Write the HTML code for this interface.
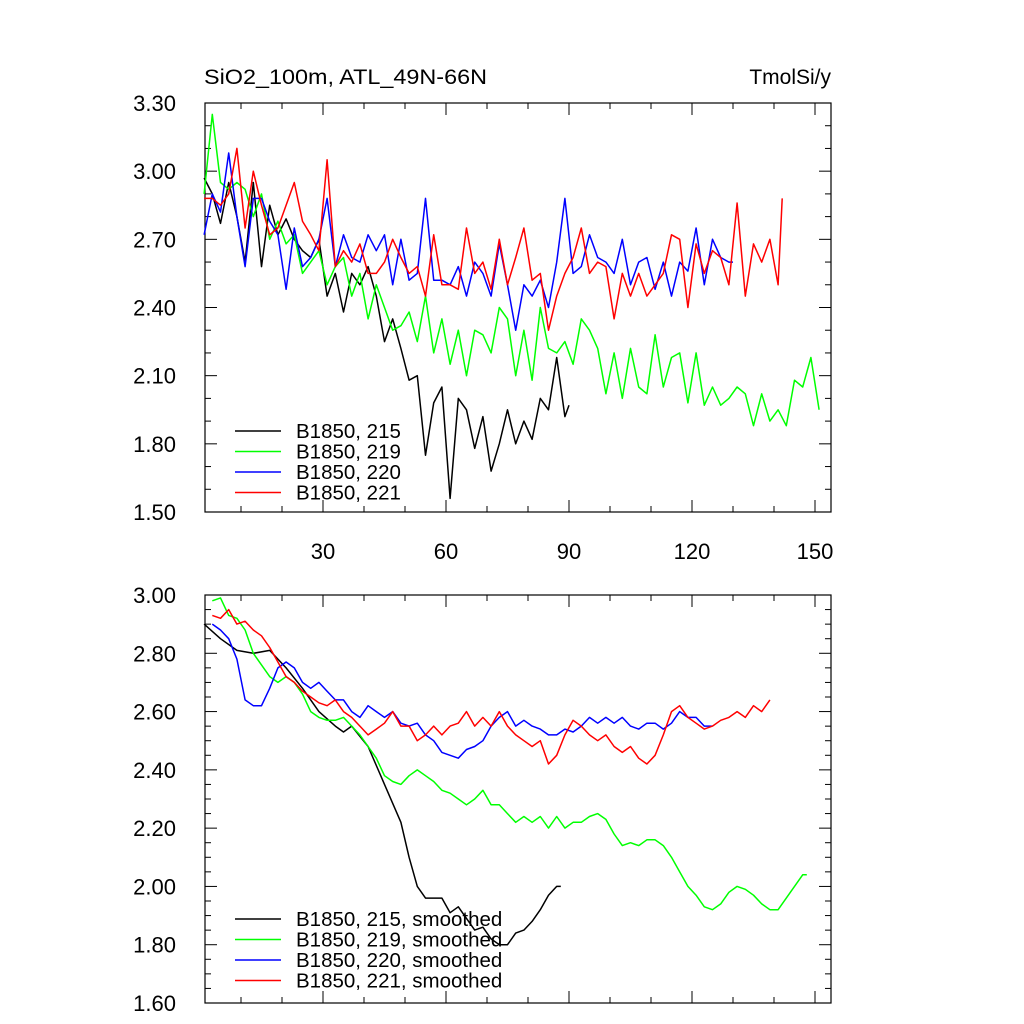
<!DOCTYPE html>
<html><head><meta charset="utf-8">
<style>
html,body{margin:0;padding:0;background:#fff;}
svg{display:block;font-family:"Liberation Sans",sans-serif;}
</style></head>
<body>
<svg id="chart" width="1024" height="1024" viewBox="0 0 1024 1024" xmlns="http://www.w3.org/2000/svg">
<text x="204" y="84" font-size="21" textLength="283" lengthAdjust="spacingAndGlyphs">SiO2_100m, ATL_49N-66N</text>
<text x="831" y="84" font-size="21" text-anchor="end">TmolSi/y</text>
<g id="top"></g>
<g id="bot"></g>
</svg>
<script>
const xTickLabels = [30, 60, 90, 120, 150];
const topYTicks = ["1.50","1.80","2.10","2.40","2.70","3.00","3.30"];
const botYTicks = ["1.60","1.80","2.00","2.20","2.40","2.60","2.80","3.00"];
const seriesNames = ["B1850, 215","B1850, 219","B1850, 220","B1850, 221"];
const colors = ["#000","#00ff00","#0000ff","#ff0000"];

const x215 = [1,3,5,7,9,11,13,15,17,19,21,23,25,27,29,31,33,35,37,39,41,43,45,47,49,51,53,55,57,59,61,63,65,67,69,71,73,75,77,79,81,83,85,87,89,90];
const y215 = [2.97,2.90,2.77,2.95,2.80,2.60,2.95,2.58,2.85,2.72,2.79,2.70,2.65,2.62,2.70,2.45,2.55,2.38,2.55,2.50,2.58,2.45,2.25,2.35,2.22,2.08,2.10,1.75,1.98,2.05,1.56,2.00,1.95,1.78,1.92,1.68,1.80,1.95,1.80,1.90,1.82,2.00,1.95,2.18,1.92,1.97];
const x219 = [1,3,5,7,9,11,13,15,17,19,21,23,25,27,29,31,33,35,37,39,41,43,45,47,49,51,53,55,57,59,61,63,65,67,69,71,73,75,77,79,81,83,85,87,89,91,93,95,97,99,101,103,105,107,109,111,113,115,117,119,121,123,125,127,129,131,133,135,137,139,141,143,145,147,149,151];
const y219 = [2.90,3.25,2.95,2.92,2.95,2.92,2.80,2.90,2.70,2.78,2.68,2.72,2.55,2.60,2.65,2.50,2.58,2.62,2.45,2.55,2.35,2.50,2.40,2.30,2.32,2.38,2.25,2.45,2.20,2.35,2.15,2.30,2.10,2.30,2.28,2.20,2.40,2.35,2.10,2.30,2.08,2.40,2.22,2.20,2.25,2.15,2.35,2.30,2.22,2.02,2.20,2.00,2.22,2.05,2.02,2.28,2.05,2.18,2.20,1.98,2.20,1.97,2.05,1.97,2.00,2.05,2.02,1.88,2.02,1.90,1.95,1.88,2.08,2.05,2.18,1.95];
const x220 = [1,3,5,7,9,11,13,15,17,19,21,23,25,27,29,31,33,35,37,39,41,43,45,47,49,51,53,55,57,59,61,63,65,67,69,71,73,75,77,79,81,83,85,87,89,91,93,95,97,99,101,103,105,107,109,111,113,115,117,119,121,123,125,127,129,130];
const y220 = [2.72,2.90,2.82,3.08,2.80,2.58,2.88,2.88,2.78,2.72,2.48,2.75,2.58,2.62,2.70,2.88,2.58,2.72,2.62,2.60,2.72,2.65,2.72,2.50,2.70,2.52,2.55,2.88,2.52,2.52,2.50,2.58,2.45,2.60,2.55,2.45,2.68,2.50,2.30,2.50,2.45,2.52,2.40,2.60,2.88,2.55,2.58,2.72,2.62,2.60,2.55,2.70,2.50,2.60,2.62,2.48,2.60,2.45,2.60,2.56,2.75,2.50,2.70,2.62,2.60,2.60];
const x221 = [1,3,5,7,9,11,13,15,17,19,21,23,25,27,29,31,33,35,37,39,41,43,45,47,49,51,53,55,57,59,61,63,65,67,69,71,73,75,77,79,81,83,85,87,89,91,93,95,97,99,101,103,105,107,109,111,113,115,117,119,121,123,125,127,129,131,133,135,137,139,141,142];
const y221 = [2.88,2.88,2.85,2.90,3.10,2.75,3.00,2.85,2.72,2.75,2.85,2.95,2.78,2.72,2.65,3.05,2.58,2.65,2.60,2.68,2.55,2.55,2.60,2.70,2.62,2.55,2.58,2.45,2.72,2.50,2.50,2.48,2.75,2.55,2.60,2.48,2.70,2.50,2.62,2.75,2.52,2.55,2.30,2.45,2.55,2.62,2.75,2.55,2.60,2.58,2.35,2.55,2.45,2.55,2.45,2.50,2.55,2.72,2.70,2.40,2.68,2.55,2.65,2.62,2.50,2.86,2.45,2.68,2.60,2.70,2.50,2.88];

const xs215 = [1,5,9,13,17,21,25,29,33,35,37,41,45,49,51,53,55,59,61,63,67,69,71,73,75,77,79,81,83,85,87,88];
const ys215 = [2.90,2.85,2.81,2.80,2.81,2.75,2.68,2.60,2.55,2.53,2.55,2.48,2.35,2.22,2.10,2.00,1.96,1.96,1.91,1.93,1.85,1.86,1.82,1.80,1.80,1.84,1.85,1.88,1.92,1.97,2.00,2.00];
const xs219 = [3,5,7,9,11,13,15,17,19,21,23,25,27,29,31,33,35,37,39,41,43,45,47,49,51,53,55,57,59,61,63,65,67,69,71,73,75,77,79,81,83,85,87,89,91,93,95,97,99,101,103,105,107,109,111,113,115,117,119,121,123,125,127,129,131,133,135,137,139,141,143,145,147,148];
const ys219 = [2.98,2.99,2.93,2.92,2.88,2.80,2.76,2.72,2.70,2.72,2.70,2.66,2.60,2.58,2.57,2.57,2.58,2.55,2.52,2.48,2.44,2.38,2.36,2.35,2.38,2.40,2.38,2.36,2.33,2.32,2.30,2.28,2.30,2.33,2.28,2.28,2.25,2.22,2.24,2.22,2.24,2.20,2.24,2.20,2.22,2.22,2.24,2.25,2.23,2.18,2.14,2.15,2.14,2.16,2.16,2.14,2.10,2.05,2.00,1.97,1.93,1.92,1.94,1.98,2.00,1.99,1.97,1.94,1.92,1.92,1.96,2.00,2.04,2.04];
const xs220 = [3,5,7,9,11,13,15,17,19,21,23,25,27,29,31,33,35,37,39,41,43,45,47,49,51,53,55,57,59,61,63,65,67,69,71,73,75,77,79,81,83,85,87,89,91,93,95,97,99,101,103,105,107,109,111,113,115,117,119,121,123,125];
const ys220 = [2.90,2.88,2.85,2.78,2.64,2.62,2.62,2.68,2.75,2.77,2.75,2.70,2.68,2.70,2.67,2.64,2.64,2.60,2.58,2.62,2.60,2.58,2.60,2.56,2.55,2.56,2.52,2.50,2.46,2.45,2.44,2.47,2.48,2.50,2.55,2.58,2.60,2.55,2.57,2.55,2.54,2.52,2.52,2.54,2.53,2.55,2.58,2.56,2.58,2.56,2.58,2.55,2.54,2.56,2.56,2.54,2.56,2.60,2.58,2.58,2.55,2.55];
const xs221 = [3,5,7,9,11,13,15,17,19,21,23,25,27,29,31,33,35,37,39,41,43,45,47,49,51,53,55,57,59,61,63,65,67,69,71,73,75,77,79,81,83,85,87,89,91,93,95,97,99,101,103,105,107,109,111,113,115,117,119,121,123,125,127,129,131,133,135,137,139];
const ys221 = [2.93,2.92,2.95,2.90,2.91,2.88,2.86,2.82,2.77,2.72,2.70,2.67,2.65,2.63,2.62,2.64,2.60,2.58,2.55,2.52,2.54,2.56,2.60,2.55,2.55,2.50,2.52,2.55,2.52,2.55,2.56,2.60,2.55,2.58,2.55,2.60,2.55,2.52,2.50,2.48,2.50,2.42,2.45,2.52,2.57,2.55,2.52,2.50,2.52,2.48,2.46,2.48,2.44,2.42,2.45,2.52,2.60,2.62,2.58,2.56,2.54,2.55,2.57,2.58,2.60,2.58,2.62,2.60,2.64];

const NS = "http://www.w3.org/2000/svg";
const L = 205, R = 831;
function xScale(v){ return 200 + (v/30)*123; }
function mk(tag, attrs, parent){
  const e = document.createElementNS(NS, tag);
  for (const k in attrs) e.setAttribute(k, attrs[k]);
  parent.appendChild(e); return e;
}

function panel(g, top, bot, ymin, ymax, yticks, minorStep, xLabels, xs, ys, legendNames, legendY, pfx){
  const yScale = v => bot - (v - ymin)/(ymax - ymin)*(bot - top);
  const frame = mk("rect", {x:L, y:top, width:R-L, height:bot-top, fill:"none", stroke:"#000", "stroke-width":1.2}, g);
  
  
  const nMinor = Math.round((ymax-ymin)/minorStep);
  for (let i=0;i<=nMinor;i++){
    const v = ymin + i*minorStep, y = yScale(v);
    const major = yticks.some(t => Math.abs(parseFloat(t)-v) < 1e-6);
    const len = major ? 12 : 6;
    const t1 = mk("line",{x1:L,x2:L+len,y1:y,y2:y,stroke:"#000","stroke-width":1},g);
    
    
    const t2 = mk("line",{x1:R,x2:R-len,y1:y,y2:y,stroke:"#000","stroke-width":1},g);
    
    
  }
  yticks.forEach(t => {
    const tx = mk("text",{x:176,y:yScale(parseFloat(t))+8,"font-size":22,"text-anchor":"end"},g);
    tx.textContent = t;
    
    
  });
  for (let v=10; v<=150; v+=10){
    const x = xScale(v), len = (v%30===0)?12:6;
    const a = mk("line",{x1:x,x2:x,y1:bot,y2:bot-len,stroke:"#000","stroke-width":1},g);
    
    
    const b = mk("line",{x1:x,x2:x,y1:top,y2:top+len,stroke:"#000","stroke-width":1},g);
    
    
  }
  if (xLabels){
    xLabels.forEach(v => {
      const tx = mk("text",{x:xScale(v),y:bot+47,"font-size":22,"text-anchor":"middle"},g);
      tx.textContent = v;
      
      
    });
  }
  xs.forEach((xa, i) => {
    const pts = xa.map((xv, j) => xScale(xv).toFixed(1) + "," + yScale(ys[i][j]).toFixed(1)).join(" ");
    const pl = mk("polyline",{points:pts,fill:"none",stroke:colors[i],"stroke-width":1.5,"stroke-linejoin":"round"},g);
    
    
  });
  legendNames.forEach((n, i) => {
    const y = legendY + i*20.5;
    const ln = mk("line",{x1:235,x2:281,y1:y,y2:y,stroke:colors[i],"stroke-width":1.5},g);
    
    
    const tx = mk("text",{x:296,y:y+7,"font-size":20.5},g);
    tx.textContent = n;
    
    
  });
}

panel(document.getElementById("top"), 103, 512, 1.5, 3.3, topYTicks, 0.1, xTickLabels,
  [x215,x219,x220,x221],[y215,y219,y220,y221], seriesNames, 431, "top");
panel(document.getElementById("bot"), 595, 1003, 1.6, 3.0, botYTicks, 0.05, null,
  [xs215,xs219,xs220,xs221],[ys215,ys219,ys220,ys221], seriesNames.map(s => s + ", smoothed"), 919, "bottom");
</script>
</body></html>
